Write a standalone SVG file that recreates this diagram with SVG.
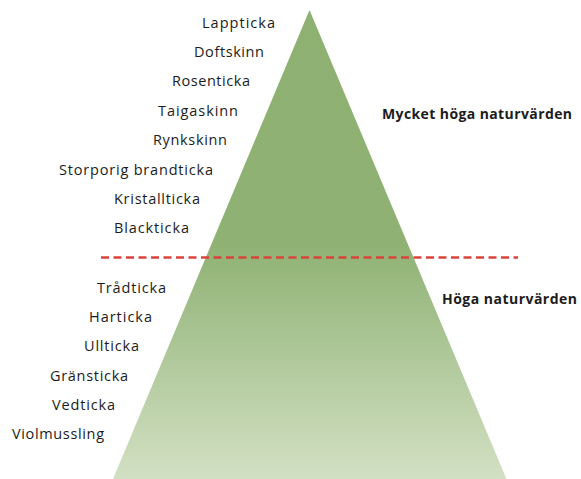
<svg xmlns="http://www.w3.org/2000/svg" width="581" height="479" viewBox="0 0 581 479">
<defs>
<linearGradient id="g" x1="0" y1="10" x2="0" y2="479" gradientUnits="userSpaceOnUse">
<stop offset="0" stop-color="#8eb172"/>
<stop offset="0.5" stop-color="#8fb274"/>
<stop offset="1" stop-color="#d2e0c3"/>
</linearGradient>
<style>
.t{font-family:"Open Sans","Noto Sans",sans-serif;font-size:14.5px;font-weight:500;fill:#1c1c1c;text-anchor:end}
.h{font-family:"Open Sans","Noto Sans",sans-serif;font-size:14px;font-weight:bold;fill:#1c1c1c}
.d{stroke:#d9443a;stroke-width:2.5;stroke-dasharray:8,4.5;fill:none}
</style>
</defs>
<g id="pyramid"><polygon points="309.5,10 506.5,479 113,479" fill="url(#g)"/></g>
<g id="connectors"><line class="d" x1="101" y1="257.5" x2="518" y2="257.5"/></g>
<g id="labels-top">
<text class="t" x="275" y="28" textLength="73">Lappticka</text>
<text class="t" x="264" y="57" textLength="70">Doftskinn</text>
<text class="t" x="250" y="86" textLength="78">Rosenticka</text>
<text class="t" x="238" y="116" textLength="80">Taigaskinn</text>
<text class="t" x="227" y="145" textLength="74">Rynkskinn</text>
<text class="t" x="213" y="175" textLength="154">Storporig brandticka</text>
<text class="t" x="200" y="204" textLength="86">Kristallticka</text>
<text class="t" x="189" y="233" textLength="75">Blackticka</text>
</g>
<g id="labels-bottom">
<text class="t" x="166" y="293" textLength="69">Trådticka</text>
<text class="t" x="152" y="322" textLength="63">Harticka</text>
<text class="t" x="139" y="351" textLength="55">Ullticka</text>
<text class="t" x="128" y="381" textLength="78">Gränsticka</text>
<text class="t" x="115" y="410" textLength="63">Vedticka</text>
<text class="t" x="104" y="439" textLength="92">Violmussling</text>
</g>
<g id="level-high"><text class="h" x="382" y="119" textLength="190">Mycket höga naturvärden</text></g>
<g id="level-mid"><text class="h" x="442" y="304" textLength="135">Höga naturvärden</text></g>
</svg>
